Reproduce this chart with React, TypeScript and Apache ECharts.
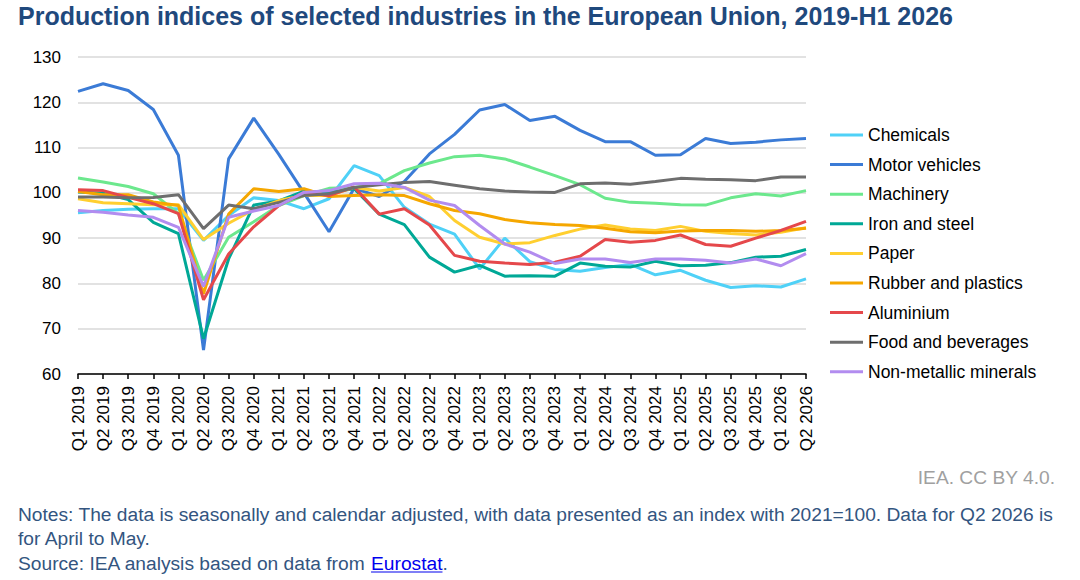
import React, { useEffect, useRef } from "react";
import * as echarts from "echarts";

const categories = [
  "Q1 2019", "Q2 2019", "Q3 2019", "Q4 2019",
  "Q1 2020", "Q2 2020", "Q3 2020", "Q4 2020",
  "Q1 2021", "Q2 2021", "Q3 2021", "Q4 2021",
  "Q1 2022", "Q2 2022", "Q3 2022", "Q4 2022",
  "Q1 2023", "Q2 2023", "Q3 2023", "Q4 2023",
  "Q1 2024", "Q2 2024", "Q3 2024", "Q4 2024",
  "Q1 2025", "Q2 2025", "Q3 2025", "Q4 2025",
  "Q1 2026", "Q2 2026",
];

const chemicals = [95.6, 96.1, 96.4, 96.5, 96.5, 89.5, 95.0, 98.9, 98.3, 96.5, 98.7, 106.0, 103.8, 96.8, 93.1, 90.9, 83.2, 90.0, 84.8, 83.1, 82.7, 83.5, 84.2, 81.9, 82.9, 80.7, 79.1, 79.5, 79.2, 81.0];
const motorVehicles = [122.4, 124.1, 122.6, 118.4, 108.3, 65.3, 107.5, 116.5, 108.5, 100.0, 91.4, 101.0, 99.2, 102.5, 108.6, 112.9, 118.3, 119.5, 116.0, 116.9, 113.8, 111.3, 111.3, 108.3, 108.4, 112.0, 110.9, 111.2, 111.7, 112.0];
const machinery = [103.3, 102.4, 101.4, 99.8, 95.4, 80.7, 90.2, 93.6, 97.2, 99.4, 101.0, 101.2, 102.0, 104.9, 106.6, 108.0, 108.3, 107.5, 105.7, 103.8, 101.8, 98.8, 97.9, 97.7, 97.4, 97.3, 98.9, 99.8, 99.3, 100.5];
const ironSteel = [100.2, 99.9, 98.5, 93.5, 91.0, 67.8, 85.4, 97.3, 98.2, 100.4, 100.1, 100.9, 95.3, 93.0, 85.8, 82.5, 84.0, 81.6, 81.7, 81.6, 84.5, 83.8, 83.6, 84.9, 83.9, 84.0, 84.6, 85.8, 86.0, 87.5];
const paper = [98.7, 97.8, 97.6, 97.4, 97.4, 89.7, 93.3, 96.3, 98.3, 99.4, 99.4, 101.2, 100.4, 101.2, 99.2, 93.9, 90.2, 88.7, 89.0, 90.6, 92.0, 92.9, 92.0, 91.7, 92.6, 91.5, 91.0, 90.7, 91.3, 92.3];
const rubberPlastics = [100.3, 99.6, 99.6, 98.0, 97.2, 77.7, 95.3, 100.9, 100.3, 100.9, 99.2, 99.4, 99.6, 99.4, 97.6, 96.1, 95.4, 94.1, 93.4, 93.0, 92.8, 92.2, 91.4, 91.2, 91.6, 91.7, 91.7, 91.5, 91.7, 92.2];
const aluminium = [100.7, 100.5, 99.0, 97.6, 95.4, 76.4, 86.5, 92.5, 97.2, 100.1, 99.4, 101.3, 95.3, 96.5, 92.9, 86.2, 84.9, 84.5, 84.2, 84.7, 86.0, 89.7, 89.1, 89.5, 90.7, 88.6, 88.2, 90.0, 91.7, 93.7];
const foodBeverages = [99.1, 99.1, 98.9, 99.0, 99.6, 92.1, 97.3, 96.5, 97.9, 99.4, 99.8, 101.2, 101.8, 102.3, 102.5, 101.7, 100.9, 100.4, 100.2, 100.1, 102.0, 102.2, 101.9, 102.5, 103.2, 103.0, 102.9, 102.7, 103.5, 103.5];
const nonMetallic = [96.1, 95.7, 95.1, 94.6, 92.4, 79.3, 94.6, 96.0, 97.2, 100.1, 100.5, 102.0, 102.1, 101.2, 98.4, 97.2, 92.8, 88.7, 86.9, 84.4, 85.4, 85.4, 84.6, 85.4, 85.4, 85.1, 84.5, 85.4, 83.9, 86.6];

const seriesNames = [
  "Chemicals", "Motor vehicles", "Machinery", "Iron and steel", "Paper",
  "Rubber and plastics", "Aluminium", "Food and beverages", "Non-metallic minerals",
];
const seriesData = [chemicals, motorVehicles, machinery, ironSteel, paper, rubberPlastics, aluminium, foodBeverages, nonMetallic];
const seriesColors = ["#4fd1f7", "#3b7bd6", "#6ce88d", "#00a896", "#ffcf30", "#f5a700", "#e5484b", "#6e6e6e", "#b28cef"];

const FONT = "'Liberation Sans', Arial, sans-serif";
const TITLE = "Production indices of selected industries in the European Union, 2019-H1 2026";
const NOTE1 = "Notes: The data is seasonally and calendar adjusted, with data presented as an index with 2021=100. Data for Q2 2026 is";
const NOTE2 = "for April to May.";
const SOURCE_PREFIX = "Source: IEA analysis based on data from ";
const SOURCE_LINK = "Eurostat";
const CREDIT = "IEA. CC BY 4.0.";

function measure(text: string, font: string): number {
  const c = document.createElement("canvas");
  const ctx = c.getContext("2d");
  if (!ctx) return text.length * 8;
  ctx.font = font;
  return ctx.measureText(text).width;
}

export default function App() {
  const ref = useRef<HTMLDivElement>(null);
  useEffect(() => {
    if (!ref.current) return;
    const chart = echarts.init(ref.current, undefined, { renderer: "svg" });
    const noteSize = 19.2;
    const noteColor = "#33557f";
    const prefixW = measure(SOURCE_PREFIX, `${noteSize}px 'Liberation Sans'`);
    const linkW = measure(SOURCE_LINK, `${noteSize}px 'Liberation Sans'`);
    const srcY = 563;
    chart.setOption({
      animation: false,
      backgroundColor: "#ffffff",
      textStyle: { fontFamily: FONT },
      grid: { left: 78, right: 274, top: 57, bottom: 206, containLabel: false },
      legend: {
        orient: "vertical",
        left: 830,
        top: 125,
        padding: 0,
        icon: "rect",
        itemWidth: 33,
        itemHeight: 3,
        itemGap: 9.6,
        data: seriesNames,
        textStyle: { fontSize: 17.5, color: "#000", lineHeight: 20, fontFamily: FONT },
      },
      xAxis: {
        type: "category",
        data: categories,
        boundaryGap: false,
        axisLine: { lineStyle: { color: "#000", width: 1.5 } },
        axisTick: { show: true, alignWithLabel: true, length: 5, lineStyle: { color: "#000", width: 1.5 } },
        axisLabel: { rotate: 90, interval: 0, fontSize: 17, color: "#000", margin: 12, fontFamily: FONT },
        splitLine: { show: false },
      },
      yAxis: {
        type: "value",
        min: 60,
        max: 130,
        interval: 10,
        axisLine: { show: false },
        axisTick: { show: false },
        axisLabel: { fontSize: 17, color: "#000", margin: 17, fontFamily: FONT },
        splitLine: { lineStyle: { color: "#d9d9d9", width: 1.5 } },
      },
      series: seriesNames.map((name, i) => ({
        name,
        type: "line",
        data: seriesData[i],
        showSymbol: false,
        symbol: "none",
        color: seriesColors[i],
        lineStyle: { width: 3, color: seriesColors[i] },
        emphasis: { disabled: true },
      })),
      graphic: [
        {
          type: "text",
          left: 18,
          top: 3,
          style: { text: TITLE, fontSize: 25, fontWeight: "bold", fill: "#1f497d", fontFamily: FONT },
        },
        {
          type: "text",
          x: 1055,
          y: 477,
          style: { text: CREDIT, fontSize: noteSize, fill: "#a0a0a0", fontFamily: FONT, align: "right", verticalAlign: "middle" },
        },
        {
          type: "text",
          x: 18,
          y: 514,
          style: { text: NOTE1, fontSize: noteSize, fill: noteColor, fontFamily: FONT, verticalAlign: "middle" },
        },
        {
          type: "text",
          x: 18,
          y: 538,
          style: { text: NOTE2, fontSize: noteSize, fill: noteColor, fontFamily: FONT, verticalAlign: "middle" },
        },
        {
          type: "text",
          x: 18,
          y: srcY,
          style: { text: SOURCE_PREFIX, fontSize: noteSize, fill: noteColor, fontFamily: FONT, verticalAlign: "middle" },
        },
        {
          type: "text",
          x: 18 + prefixW,
          y: srcY,
          style: { text: SOURCE_LINK, fontSize: noteSize, fill: "#0000ee", fontFamily: FONT, verticalAlign: "middle" },
        },
        {
          type: "line",
          shape: { x1: 18 + prefixW, y1: srcY + 9, x2: 18 + prefixW + linkW, y2: srcY + 9 },
          style: { stroke: "#0000ee", lineWidth: 1.2 },
        },
        {
          type: "text",
          x: 18 + prefixW + linkW,
          y: srcY,
          style: { text: ".", fontSize: noteSize, fill: noteColor, fontFamily: FONT, verticalAlign: "middle" },
        },
      ],
    });
    return () => chart.dispose();
  }, []);
  return (
    <div
      ref={ref}
      style={{ position: "fixed", left: 0, top: 0, width: 1080, height: 580, background: "#fff" }}
    />
  );
}
